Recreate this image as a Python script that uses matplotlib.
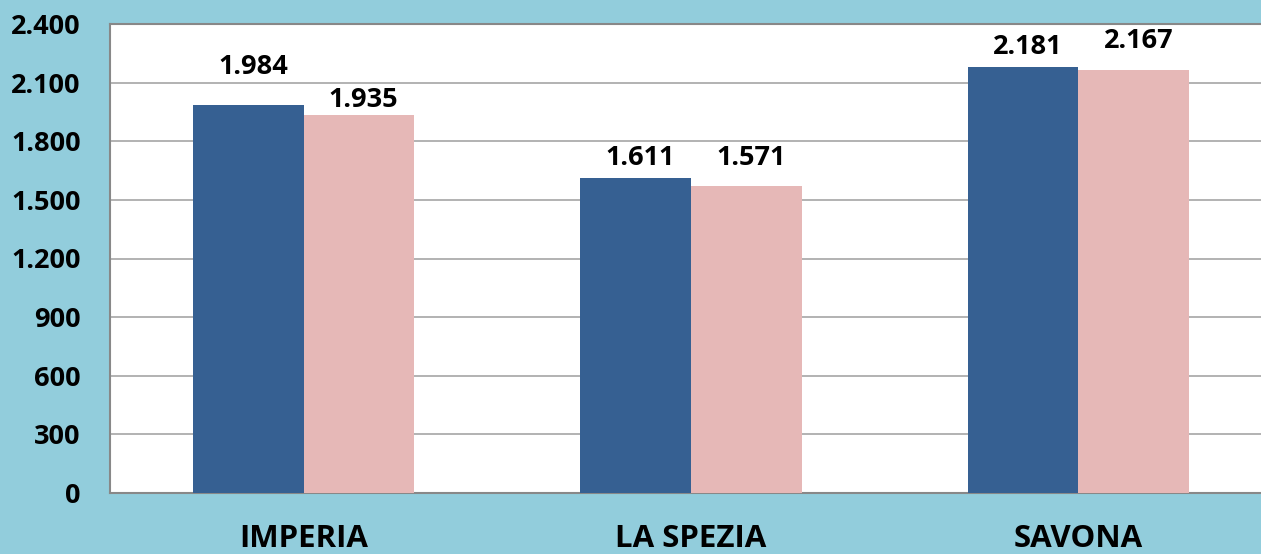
import numpy as np
from matplotlib import pyplot as plt

# Data
categories = ["IMPERIA", "LA SPEZIA", "SAVONA"]
serie_a = [1984, 1611, 2181]
serie_b = [1935, 1571, 2167]
yticks = [0, 300, 600, 900, 1200, 1500, 1800, 2100, 2400]

# label offsets above the bars (pixels), Excel nudged them around
off_a = [38, 20, 20]
off_b = [15, 28, 29]

bg = "#92CDDC"
blue = "#366092"
pink = "#E6B8B7"
font = "Open Sans"

def fmt(v):
    return f"{v:,}".replace(",", ".")

fig = plt.figure(figsize=[12.61, 5.54], dpi=100)
fig.patch.set_facecolor(bg)
# plot area runs past the right edge of the picture
ax = fig.add_axes([110/1261, 61/554, 1151/1261, 469/554])
ax.set_facecolor("white")

x = np.arange(len(categories))
w = 0.286
bars_a = ax.bar(x - w/2, serie_a, width=w, color=blue, zorder=3)
bars_b = ax.bar(x + w/2, serie_b, width=w, color=pink, zorder=3)

for bars, vals, offs in [(bars_a, serie_a, off_a), (bars_b, serie_b, off_b)]:
    for b, v, o in zip(bars, vals, offs):
        ax.annotate(fmt(v), (b.get_x() + b.get_width()/2 + 0.012, v), xytext=(0, o*0.72),
                    textcoords="offset points", ha="center", va="center",
                    fontsize=19.5, fontweight="bold", family=font)

ax.set_xlim(-0.5, 2.5 - 11/387.5)
ax.set_ylim(0, 2400)
ax.set_yticks(yticks)
ax.set_yticklabels([fmt(t) for t in yticks], fontsize=19.5, fontweight="bold", family=font)
ax.set_xticks(x)
ax.set_xticklabels(categories, fontsize=22.5, fontweight="bold", family=font)
ax.tick_params(axis="y", length=0, pad=21)
ax.tick_params(axis="x", length=0, pad=22)

ax.grid(axis="y", color="#A6A6A6", linewidth=1.2, zorder=0)
for s in ax.spines.values():
    s.set_color("#888888")
    s.set_linewidth(1.5)
ax.spines["right"].set_visible(False)

plt.savefig("out.png", dpi=100, facecolor=bg)
